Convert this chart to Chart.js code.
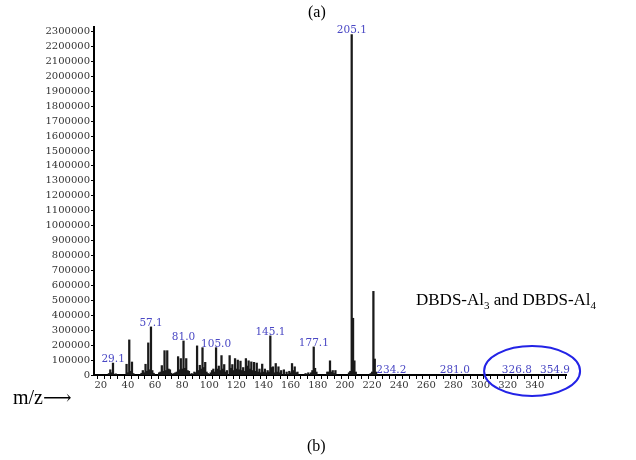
<!DOCTYPE html>
<html>
<head>
<meta charset="utf-8">
<script src="https://cdn.jsdelivr.net/npm/chart.js@4.4.0/dist/chart.umd.min.js"></script>
<style>
  body { margin: 0; background: #fff; }
  #wrap { position: relative; width: 636px; height: 460px; }
  #chart { position: absolute; left: 0; top: 0; }
  .txt { position: absolute; font-family: "Liberation Serif", "DejaVu Serif", serif; color: #000; white-space: nowrap; }
</style>
</head>
<body>
<div id="wrap">
  <canvas id="chart" width="636" height="460"></canvas>
  <div class="txt" style="left:308px; top:3px; font-size:16px;">(a)</div>
  <div class="txt" style="left:307px; top:437px; font-size:16px;">(b)</div>
  <div class="txt" style="left:13px; top:385px; font-size:20px;">m/z&#10230;</div>
  <div class="txt" style="left:416px; top:290px; font-size:17px;">DBDS-Al<sub style="font-size:11px;">3</sub> and DBDS-Al<sub style="font-size:11px;">4</sub></div>
</div>
<script>
// Spectrum data (m/z, intensity)
const mz = [26, 27, 28, 29, 31, 39, 40, 41, 42, 43, 44, 50, 51, 52, 53, 54, 55, 56, 57, 58, 59,
  63, 64, 65, 66, 67, 68, 69, 70, 71, 72, 74, 75, 76, 77, 78, 79, 80, 81, 82, 83, 84, 85, 87, 89, 90,
  91, 92, 93, 94, 95, 96, 97, 98, 99, 101, 102, 103, 104, 105, 106, 107, 108, 109, 110, 111, 112, 113,
  115, 116, 117, 118, 119, 120, 121, 122, 123, 124, 125, 126, 127, 128, 129, 130, 131, 132, 133, 134,
  135, 136, 137, 138, 139, 140, 141, 142, 143, 144, 145, 146, 147, 148, 149, 150, 151, 152, 153, 155,
  157, 159, 160, 161, 162, 163, 164, 165, 171, 173, 175, 176, 177, 178, 179, 187, 188, 189, 190, 191,
  192, 193, 203, 204, 205, 206, 207, 208, 219, 220, 221, 222, 223, 234.2, 281.0, 326.8, 354.9];
const intensity = [10000, 35000, 15000, 80000, 8000, 72000, 15000, 235000, 25000, 87000, 10000, 12000, 30000, 15000, 72000, 25000, 215000, 35000, 322000, 30000, 12000,
  15000, 20000, 63000, 25000, 163000, 30000, 163000, 40000, 35000, 12000, 10000, 15000, 20000, 123000, 35000, 110000, 40000, 228000, 45000, 110000, 30000, 25000, 10000, 20000, 15000,
  195000, 30000, 65000, 40000, 183000, 50000, 85000, 20000, 10000, 15000, 30000, 40000, 20000, 183000, 40000, 60000, 30000, 130000, 40000, 70000, 20000, 30000,
  130000, 45000, 70000, 30000, 110000, 40000, 100000, 35000, 93000, 30000, 50000, 25000, 110000, 60000, 95000, 40000, 88000, 30000, 85000, 25000,
  80000, 20000, 40000, 15000, 73000, 20000, 40000, 15000, 30000, 20000, 262000, 50000, 55000, 15000, 77000, 20000, 55000, 15000, 30000, 35000,
  20000, 25000, 15000, 77000, 30000, 55000, 15000, 20000, 10000, 15000, 15000, 30000, 188000, 45000, 20000, 20000, 20000, 95000, 20000, 30000,
  10000, 30000, 15000, 25000, 2280000, 380000, 95000, 20000, 10000, 20000, 560000, 107000, 20000, 5000, 4000, 4000, 4000];

// Annotated peaks
const peakLabels = ['29.1', '57.1', '81.0', '105.0', '145.1', '177.1', '205.1', '234.2', '281.0', '326.8', '354.9'];

// Axis ticks
const yTicks = [0, 100000, 200000, 300000, 400000, 500000, 600000, 700000, 800000, 900000, 1000000,
  1100000, 1200000, 1300000, 1400000, 1500000, 1600000, 1700000, 1800000, 1900000, 2000000,
  2100000, 2200000, 2300000];
const xLabels = [20, 40, 60, 80, 100, 120, 140, 160, 180, 200, 220, 240, 260, 280, 300, 320, 340];
const xMinorStep = 5;

const xMin = 15, xMax = 363;
const yMax = 2330000;

const xTicks = [];
for (let v = xMin; v <= xMax; v += xMinorStep) xTicks.push(v);

const peakLabelPlugin = {
  id: 'peakLabels',
  afterDatasetsDraw(chart) {
    const ctx = chart.ctx;
    const xs = chart.scales.x, ys = chart.scales.y;
    ctx.save();
    ctx.font = '10.5px "DejaVu Serif"';
    ctx.fillStyle = '#4a48c4';
    ctx.textAlign = 'center';
    ctx.textBaseline = 'alphabetic';
    peakLabels.forEach(lbl => {
      const m = parseFloat(lbl);
      let top = 0;
      mz.forEach((v, i) => { if (Math.abs(v - m) < 0.6) top = Math.max(top, intensity[i]); });
      ctx.fillText(lbl, xs.getPixelForValue(m), ys.getPixelForValue(top) - 1);
    });
    // circled region for the high-mass fragments
    ctx.strokeStyle = '#2323e6';
    ctx.lineWidth = 2;
    ctx.beginPath();
    ctx.ellipse(xs.getPixelForValue(338), ys.getPixelForValue(0) - 4, 48, 25, 0, 0, Math.PI * 2);
    ctx.stroke();
    ctx.restore();
  }
};

new Chart(document.getElementById('chart'), {
  type: 'bar',
  data: {
    datasets: [{
      data: mz.map((m, i) => ({ x: m, y: intensity[i] })),
      backgroundColor: '#1a1a1a',
      barThickness: 1.6,
      borderWidth: 0
    }]
  },
  options: {
    responsive: false,
    animation: false,
    layout: { padding: { left: 0, right: 70, top: 27, bottom: 65 } },
    plugins: { legend: { display: false }, tooltip: { enabled: false } },
    scales: {
      x: {
        type: 'linear',
        min: xMin,
        max: xMax,
        offset: false,
        afterFit(scale) { scale.height = 20; },
        afterBuildTicks(scale) { scale.ticks = xTicks.map(v => ({ value: v })); },
        border: { display: true, color: '#000', width: 2 },
        grid: { display: true, drawOnChartArea: false, drawTicks: true, tickLength: 4, color: '#000', lineWidth: 1 },
        ticks: {
          autoSkip: false,
          maxRotation: 0,
          padding: 0,
          color: '#333',
          font: { family: 'DejaVu Serif', size: 10 },
          callback: v => xLabels.includes(v) ? String(v) : ''
        }
      },
      y: {
        type: 'linear',
        min: 0,
        max: yMax,
        afterFit(scale) { scale.width = 94; },
        afterBuildTicks(scale) { scale.ticks = yTicks.map(v => ({ value: v })); },
        border: { display: true, color: '#000', width: 2 },
        grid: { display: true, drawOnChartArea: false, drawTicks: true, tickLength: 3, color: '#000', lineWidth: 1 },
        ticks: {
          autoSkip: false,
          padding: 1,
          color: '#333',
          font: { family: 'DejaVu Serif', size: 10 },
          callback: v => String(v)
        }
      }
    }
  },
  plugins: [peakLabelPlugin]
});
</script>
</body>
</html>
